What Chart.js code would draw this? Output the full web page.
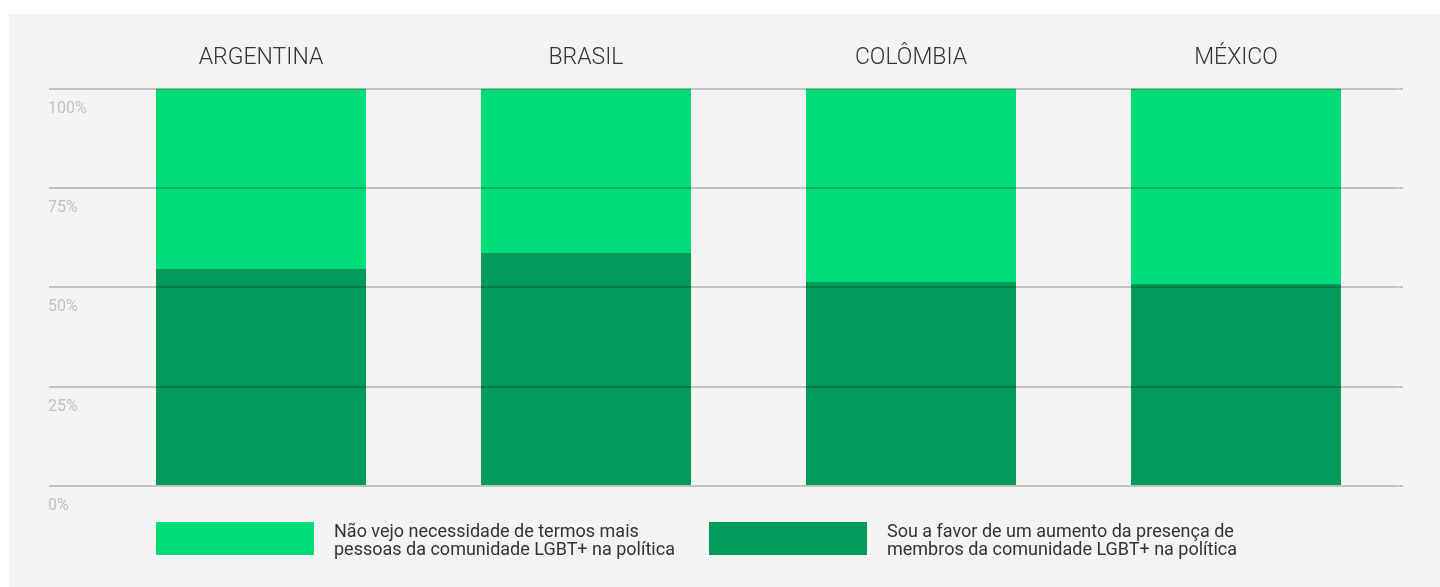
<!DOCTYPE html>
<html>
<head>
<meta charset="utf-8">
<script src="https://cdn.jsdelivr.net/npm/chart.js@4"></script>
<style>
  html, body { margin: 0; padding: 0; background: #ffffff; }
  #wrap { position: relative; width: 1440px; height: 587px; }
  #panel { position: absolute; left: 9px; top: 14px; right: 0; bottom: 0; background: #f3f3f3; }
  #chart { position: absolute; left: 0; top: 0; }
</style>
</head>
<body>
<div id="wrap">
  <div id="panel"></div>
  <canvas id="chart" width="1440" height="587"></canvas>
</div>
<script>
// data
const countries = ['ARGENTINA', 'BRASIL', 'COLÔMBIA', 'MÉXICO'];
const favorValues = [54.6, 58.6, 51.3, 50.8];   // dark green, bottom
const noNeedValues = [45.4, 41.4, 48.7, 49.2];  // light green, top
const yTicks = [0, 25, 50, 75, 100];
const favorLabel = ['Sou a favor de um aumento da presença de', 'membros da comunidade LGBT+ na política'];
const noNeedLabel = ['Não vejo necessidade de termos mais', 'pessoas da comunidade LGBT+ na política'];

const LIGHT = '#00dc78';
const DARK = '#009b5a';
const FONT = 'Roboto, "Liberation Sans", sans-serif';

// legend drawn below the plot, light item first
const legendPlugin = {
    id: 'bottomLegend',
    afterDraw: function (chart) {
        const ctx = chart.ctx;
        const items = [chart.data.datasets[1], chart.data.datasets[0]];
        const boxX = [156, 709];
        ctx.save();
        items.forEach(function (ds, i) {
            ctx.fillStyle = ds.backgroundColor;
            ctx.fillRect(boxX[i], 522, 158, 33);
            ctx.fillStyle = '#333333';
            ctx.font = '400 18px ' + FONT;
            ctx.textBaseline = 'alphabetic';
            ctx.textAlign = 'left';
            ds.legendLines.forEach(function (line, j) {
                ctx.fillText(line, boxX[i] + 178, 537 + j * 17.5);
            });
        });
        ctx.restore();
    }
};

new Chart(document.getElementById('chart'), {
    type: 'bar',
    data: {
        labels: countries,
        datasets: [
            { label: 'favor', legendLines: favorLabel, data: favorValues, backgroundColor: DARK },
            { label: 'noNeed', legendLines: noNeedLabel, data: noNeedValues, backgroundColor: LIGHT }
        ]
    },
    options: {
        responsive: false,
        animation: false,
        layout: { padding: { left: 48, right: 37, top: 20, bottom: 101 } },
        plugins: { legend: { display: false }, tooltip: { enabled: false } },
        datasets: { bar: { categoryPercentage: 1, barPercentage: 210 / 325 } },
        scales: {
            x: {
                position: 'top',
                stacked: true,
                grid: { display: false, drawTicks: false },
                border: { display: false },
                ticks: { color: '#333333', font: { family: FONT, size: 23, weight: '300' }, padding: 16 },
                afterFit: function (scale) { scale.height = 68.5; }
            },
            y: {
                position: 'left',
                stacked: true,
                min: 0,
                max: 100,
                z: 1,
                afterBuildTicks: function (scale) { scale.ticks = yTicks.map(v => ({ value: v })); },
                grid: { z: 1, color: 'rgba(0,0,0,0.2)', lineWidth: 2, drawTicks: true, tickLength: 49.5, tickColor: 'rgba(0,0,0,0.2)' },
                border: { display: false },
                ticks: {
                    crossAlign: 'far',
                    labelOffset: 20,
                    color: '#c2c2c2',
                    font: { family: FONT, size: 16, weight: '400' },
                    callback: function (v) { return v + '%'; }
                },
                afterFit: function (scale) { scale.width = 50.5; }
            },
            yRight: {
                position: 'right',
                min: 0,
                max: 100,
                z: 1,
                afterBuildTicks: function (scale) { scale.ticks = yTicks.map(v => ({ value: v })); },
                grid: { z: 1, drawOnChartArea: false, lineWidth: 2, drawTicks: true, tickLength: 4.5, tickColor: 'rgba(0,0,0,0.2)' },
                border: { display: false },
                ticks: { display: false },
                afterFit: function (scale) { scale.width = 4.5; }
            }
        }
    },
    plugins: [legendPlugin]
});
</script>
</body>
</html>
